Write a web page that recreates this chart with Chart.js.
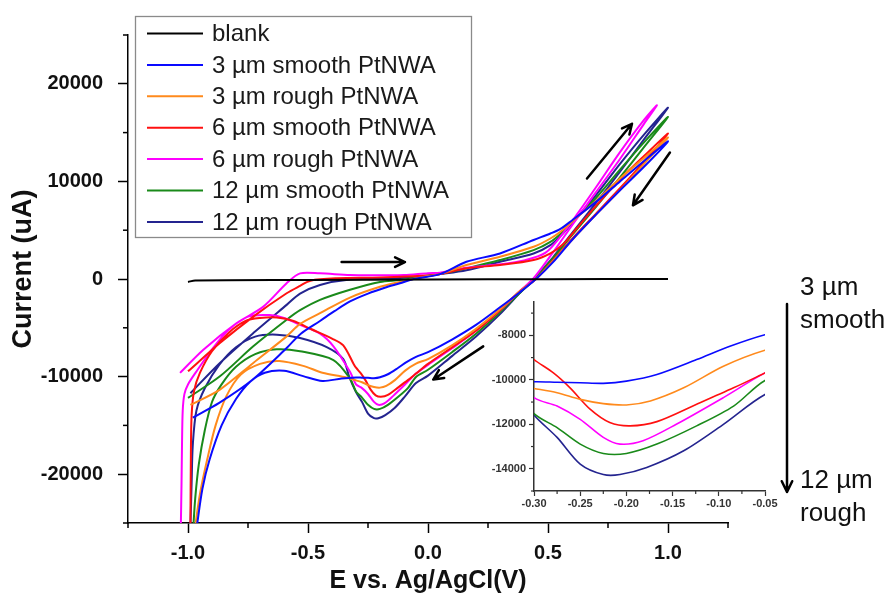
<!DOCTYPE html>
<html><head><meta charset="utf-8">
<script src="https://cdn.jsdelivr.net/npm/chart.js@4.4.0/dist/chart.umd.min.js"></script>
<style>
html,body{margin:0;padding:0;background:#fff;}
#wrap{position:relative;width:894px;height:596px;overflow:hidden;background:#fff;}
#main{position:absolute;left:0;top:0;}
#inset{position:absolute;left:470px;top:285px;}
.note{position:absolute;font-family:"Liberation Sans",Arial,sans-serif;font-size:26px;line-height:33px;color:#111;white-space:nowrap;}
</style></head><body>
<div id="wrap">
<canvas id="main" width="894" height="596"></canvas>
<canvas id="inset" width="320" height="235"></canvas>
<div class="note" style="left:800px;top:270px">3 µm<br>smooth</div>
<div class="note" style="left:800px;top:463px">12 µm<br>rough</div>
</div>
<script>
// ---------- DATA (E in V vs Ag/AgCl, current in uA) ----------
const seriesLabels = ['blank','3 µm smooth PtNWA','3 µm rough PtNWA','6 µm smooth PtNWA','6 µm rough PtNWA','12 µm smooth PtNWA','12 µm rough PtNWA'];
const seriesColors = ['#000000','#0a0aff','#ff8a1c','#ff1010','#ff00ff','#1a8a1a','#24248f'];
const xTitle = 'E vs. Ag/AgCl(V)';
const yTitle = 'Current (uA)';

const blank = [[-1.0,-300],[-0.97,-150],[-0.5,-100],[0.0,-50],[0.5,-20],[1.0,0]];

const smooth3 = [[-0.98,-14200],[-0.87,-12700],[-0.73,-10300],[-0.59,-7100],[-0.53,-5600],[-0.45,-4300],[-0.39,-3300],[-0.325,-2300],[-0.25,-1500],[-0.18,-900],[-0.117,-440],[-0.06,0],[0.05,500],[0.16,1770],[0.30,2620],[0.44,4000],[0.51,4660],[0.55,5100],[0.60,6000],[0.70,7900],[0.80,10000],[0.90,12100],[1.00,14100],
 [0.90,11500],[0.80,9100],[0.70,6600],[0.60,4000],[0.52,1700],[0.45,0],[0.38,-1400],[0.30,-2900],[0.20,-4700],[0.10,-6200],[0.00,-7500],[-0.05,-7970],[-0.088,-8490],[-0.124,-9090],[-0.167,-9760],[-0.20,-10060],[-0.225,-10160],[-0.25,-10130],[-0.275,-10110],[-0.30,-10090],[-0.36,-10200],[-0.44,-10450],[-0.52,-9950],[-0.60,-9400],[-0.68,-9600],[-0.74,-10500],[-0.80,-12300],[-0.86,-15000],[-0.91,-18500],[-0.94,-21500],[-0.964,-25500]];

const rough3 = [[-0.99,-12900],[-0.867,-11330],[-0.728,-8600],[-0.589,-5880],[-0.533,-4600],[-0.45,-3500],[-0.325,-1900],[-0.2,-800],[-0.117,-300],[0.0,300],[0.05,500],[0.16,1430],[0.30,2280],[0.44,3300],[0.51,4150],[0.56,5000],[0.62,6300],[0.70,8000],[0.80,10300],[0.90,12400],[1.00,14500],
 [0.90,11800],[0.80,9100],[0.70,6600],[0.60,4000],[0.52,1800],[0.45,0],[0.38,-1300],[0.30,-3100],[0.20,-5100],[0.10,-6800],[0.00,-8200],[-0.05,-8670],[-0.095,-9390],[-0.138,-10360],[-0.174,-10950],[-0.20,-11130],[-0.225,-11070],[-0.25,-10880],[-0.275,-10580],[-0.30,-10390],[-0.34,-10100],[-0.44,-9600],[-0.52,-8900],[-0.62,-8400],[-0.70,-8700],[-0.78,-9800],[-0.84,-12000],[-0.885,-15000],[-0.92,-18500],[-0.95,-22000],[-0.971,-25500]];

const smooth6 = [[-1.0,-9460],[-0.867,-6560],[-0.728,-3850],[-0.589,-1460],[-0.533,-700],[-0.49,-170],[-0.38,70],[-0.2,150],[0.0,350],[0.05,500],[0.16,1100],[0.30,1430],[0.44,1940],[0.51,2620],[0.56,3500],[0.62,5200],[0.70,7500],[0.80,10200],[0.90,12600],[1.00,14900],
 [0.90,12000],[0.80,9300],[0.70,6700],[0.60,4100],[0.52,1900],[0.45,0],[0.38,-1300],[0.30,-3200],[0.20,-5300],[0.10,-7000],[0.00,-8700],[-0.05,-9690],[-0.084,-10360],[-0.124,-11100],[-0.167,-11880],[-0.196,-12070],[-0.218,-11920],[-0.239,-11330],[-0.261,-10360],[-0.279,-9690],[-0.30,-9090],[-0.31,-8700],[-0.353,-6800],[-0.40,-6100],[-0.49,-5100],[-0.56,-4300],[-0.63,-3950],[-0.70,-4000],[-0.76,-4300],[-0.83,-5500],[-0.90,-7400],[-0.95,-9600],[-0.975,-11500],[-0.985,-14000],[-0.988,-18000],[-0.99,-25500]];

const rough6 = [[-1.033,-9620],[-0.936,-7245],[-0.797,-4520],[-0.686,-2830],[-0.589,-440],[-0.533,580],[-0.45,580],[-0.325,400],[-0.2,380],[-0.1,400],[0.0,600],[0.05,650],[0.16,1150],[0.30,1500],[0.40,1900],[0.49,2700],[0.56,4600],[0.62,6600],[0.70,9400],[0.80,13000],[0.90,16300],[0.954,17800],
 [0.90,15900],[0.80,12300],[0.70,8900],[0.60,5500],[0.52,2700],[0.4375,0],[0.38,-1300],[0.30,-3200],[0.20,-5300],[0.10,-7100],[0.00,-8800],[-0.05,-9690],[-0.095,-10800],[-0.146,-12000],[-0.182,-12740],[-0.207,-12890],[-0.225,-12590],[-0.25,-11780],[-0.275,-11180],[-0.30,-10800],[-0.325,-9500],[-0.394,-6900],[-0.45,-5600],[-0.533,-4700],[-0.60,-4000],[-0.66,-3700],[-0.75,-3850],[-0.83,-5200],[-0.90,-7200],[-0.96,-9300],[-1.0,-10800],[-1.015,-11800],[-1.022,-13500],[-1.025,-17000],[-1.027,-21000],[-1.03,-25500]];

const smooth12 = [[-1.0,-12180],[-0.867,-9970],[-0.728,-6900],[-0.589,-4180],[-0.533,-3200],[-0.45,-2140],[-0.325,-1100],[-0.2,-300],[-0.117,-100],[0.0,300],[0.05,500],[0.16,1090],[0.30,1940],[0.44,2960],[0.51,3800],[0.56,4800],[0.62,6300],[0.70,8300],[0.80,11200],[0.90,14000],[1.00,16600],
 [0.90,13500],[0.80,10400],[0.70,7400],[0.60,4500],[0.52,2100],[0.445,0],[0.38,-1500],[0.30,-3400],[0.20,-5600],[0.10,-7500],[0.00,-9300],[-0.05,-10030],[-0.084,-11180],[-0.124,-12070],[-0.167,-12890],[-0.20,-13310],[-0.225,-13310],[-0.25,-12890],[-0.275,-12150],[-0.30,-11520],[-0.325,-10200],[-0.394,-8300],[-0.533,-7400],[-0.63,-7200],[-0.72,-7700],[-0.80,-9000],[-0.86,-10800],[-0.90,-12600],[-0.93,-15500],[-0.955,-19000],[-0.97,-22500],[-0.978,-25500]];

const rough12 = [[-0.99,-11700],[-0.867,-8600],[-0.728,-5540],[-0.589,-2650],[-0.533,-1500],[-0.45,-610],[-0.325,-50],[-0.117,100],[0.0,350],[0.05,500],[0.16,900],[0.30,1770],[0.44,2620],[0.51,3470],[0.56,4600],[0.62,6300],[0.70,8600],[0.80,11800],[0.90,14800],[1.00,17550],
 [0.90,14300],[0.80,11000],[0.70,7800],[0.60,4700],[0.52,2200],[0.44,0],[0.38,-1500],[0.30,-3600],[0.20,-5900],[0.10,-7900],[0.00,-9900],[-0.05,-10660],[-0.095,-12000],[-0.138,-13190],[-0.178,-13940],[-0.207,-14260],[-0.225,-14260],[-0.25,-13790],[-0.275,-12590],[-0.30,-11580],[-0.33,-9900],[-0.353,-8200],[-0.42,-7000],[-0.533,-6050],[-0.63,-5700],[-0.72,-5900],[-0.80,-7000],[-0.87,-8800],[-0.93,-11200],[-0.965,-13500],[-0.98,-17000],[-0.985,-21000],[-0.99,-25500]];

const allSeries = [blank, smooth3, rough3, smooth6, rough6, smooth12, rough12];

// sweep-direction arrows (tail -> head), in data units
const arrowTail = [[-0.36,1735],[0.6625,10300],[1.008,12960],[0.23,-6900]];
const arrowHead = [[-0.096,1735],[0.85,15900],[0.854,7550],[0.022,-10300]];

// axis settings: tick grid step, minor-tick spacing, labelled-tick spacing
const mainX = {min:-1.25, max:1.25, step:0.25, minorEvery:0.25, labelEvery:0.5};
const mainY = {min:-25000, max:25000, step:5000, minorEvery:5000, labelEvery:10000};
const insetX = {min:-0.30, max:-0.05, step:0.025, minorEvery:0.025, labelEvery:0.05};
const insetY = {min:-15000, max:-6500, step:500, minorEvery:1000, labelEvery:2000};

// ---------- helpers ----------
const FONT = '"Liberation Sans", Arial, Helvetica, sans-serif';
function isMultiple(v, m){ const r = Math.abs(v / m); return Math.abs(r - Math.round(r)) < 1e-6; }

function drawArrow(ctx, x0, y0, x1, y1, hl){
  const a = Math.atan2(y1 - y0, x1 - x0);
  ctx.beginPath();
  ctx.moveTo(x0, y0); ctx.lineTo(x1, y1);
  ctx.moveTo(x1 - hl*Math.cos(a - 0.45), y1 - hl*Math.sin(a - 0.45));
  ctx.lineTo(x1, y1);
  ctx.lineTo(x1 - hl*Math.cos(a + 0.45), y1 - hl*Math.sin(a + 0.45));
  ctx.stroke();
}

function makeMinorTicks(ax, ay, len, color, width){
  return {
    id: 'minorTicks',
    afterDraw(chart){
      const ctx = chart.ctx, xs = chart.scales.x, ys = chart.scales.y;
      ctx.save(); ctx.strokeStyle = color; ctx.lineWidth = width;
      xs.ticks.forEach(t => {
        if (isMultiple(t.value, ax.minorEvery) && !isMultiple(t.value, ax.labelEvery)) {
          const px = xs.getPixelForValue(t.value);
          ctx.beginPath(); ctx.moveTo(px, xs.top); ctx.lineTo(px, xs.top + len); ctx.stroke();
        }
      });
      ys.ticks.forEach(t => {
        if (isMultiple(t.value, ay.minorEvery) && !isMultiple(t.value, ay.labelEvery)) {
          const py = ys.getPixelForValue(t.value);
          ctx.beginPath(); ctx.moveTo(ys.right, py); ctx.lineTo(ys.right - len, py); ctx.stroke();
        }
      });
      ctx.restore();
    }
  };
}

function buildDatasets(skipBlank, width){
  const ds = [];
  allSeries.forEach((pts, i) => {
    if (skipBlank && i === 0) return;
    ds.push({
      label: seriesLabels[i],
      data: pts.map(p => ({x: p[0], y: p[1]})),
      showLine: true,
      borderColor: seriesColors[i],
      backgroundColor: seriesColors[i],
      borderWidth: width,
      pointRadius: 0,
      tension: 0.3,
      fill: false
    });
  });
  return ds;
}

const arrowPlugin = {
  id: 'cvArrows',
  afterDatasetsDraw(chart){
    const ctx = chart.ctx, x = chart.scales.x, y = chart.scales.y;
    ctx.save(); ctx.strokeStyle = '#000'; ctx.lineWidth = 2.5; ctx.lineCap = 'round'; ctx.lineJoin = 'round';
    arrowTail.forEach((t, i) => {
      const h = arrowHead[i];
      drawArrow(ctx, x.getPixelForValue(t[0]), y.getPixelForValue(t[1]), x.getPixelForValue(h[0]), y.getPixelForValue(h[1]), 11);
    });
    // side arrow (3 µm smooth -> 12 µm rough)
    drawArrow(ctx, 787, 304, 787, 492, 12);
    ctx.restore();
  }
};

// rotated y-axis title, placed slightly above the plot centre as in the original
const yTitlePlugin = {
  id: 'yTitle',
  afterDraw(chart){
    const ctx = chart.ctx, ca = chart.chartArea;
    ctx.save();
    ctx.translate(24, (ca.top + ca.bottom) / 2 - 10);
    ctx.rotate(-Math.PI / 2);
    ctx.font = 'bold 27px ' + FONT; ctx.fillStyle = '#111';
    ctx.textAlign = 'center'; ctx.textBaseline = 'middle';
    ctx.fillText(yTitle, 0, 0);
    ctx.restore();
  }
};

const legendPlugin = {
  id: 'boxLegend',
  afterDraw(chart){
    const ctx = chart.ctx, ca = chart.chartArea;
    const L = ca.left + 7, T = 16, W = 336, H = 221;
    ctx.save();
    ctx.fillStyle = '#fff'; ctx.fillRect(L, T, W, H);
    ctx.strokeStyle = '#8a8a8a'; ctx.lineWidth = 1.3; ctx.strokeRect(L + 0.5, T + 0.5, W, H);
    ctx.font = '24px ' + FONT; ctx.textBaseline = 'middle'; ctx.textAlign = 'left';
    chart.data.datasets.forEach((ds, i) => {
      const yy = T + 17.5 + i * 31.4;
      ctx.strokeStyle = ds.borderColor; ctx.lineWidth = 2;
      ctx.beginPath(); ctx.moveTo(L + 12, yy); ctx.lineTo(L + 68, yy); ctx.stroke();
      ctx.fillStyle = '#1a1a1a';
      ctx.fillText(ds.label, L + 77, yy + 1);
    });
    ctx.restore();
  }
};

// ---------- main chart ----------
new Chart(document.getElementById('main'), {
  type: 'scatter',
  data: { datasets: buildDatasets(false, 2) },
  options: {
    responsive: false, animation: false, devicePixelRatio: 1,
    layout: { padding: { left: 0, right: 166, top: 35, bottom: 0 } },
    plugins: { legend: { display: false }, tooltip: { enabled: false } },
    scales: {
      x: {
        type: 'linear', min: mainX.min, max: mainX.max,
        afterFit: s => { s.height = 73; },
        ticks: {
          stepSize: mainX.step, autoSkip: false, maxRotation: 0, padding: 8,
          color: '#111', font: { family: FONT, size: 20, weight: 'bold' },
          callback: v => { if (!isMultiple(v, mainX.labelEvery)) return ''; const t = Math.round(v*10)/10; return (t === 0 ? 0 : t).toFixed(1); }
        },
        grid: { display: true, drawOnChartArea: false, drawTicks: true, tickLength: 10, tickWidth: 1.5,
          tickColor: c => (c.tick && isMultiple(c.tick.value, mainX.labelEvery)) ? '#000' : 'rgba(0,0,0,0)' },
        border: { display: true, color: '#000', width: 1.5 },
        title: { display: true, text: xTitle, color: '#111', font: { family: FONT, size: 25, weight: 'bold' }, padding: { top: 0, bottom: 0 } }
      },
      y: {
        type: 'linear', min: mainY.min, max: mainY.max,
        afterFit: s => { s.width = 128; },
        ticks: {
          stepSize: mainY.step, autoSkip: false, padding: 15,
          color: '#111', font: { family: FONT, size: 20, weight: 'bold' },
          callback: v => isMultiple(v, mainY.labelEvery) ? String(Math.round(v)) : ''
        },
        grid: { display: true, drawOnChartArea: false, drawTicks: true, tickLength: 10, tickWidth: 1.5,
          tickColor: c => (c.tick && isMultiple(c.tick.value, mainY.labelEvery)) ? '#000' : 'rgba(0,0,0,0)' },
        border: { display: true, color: '#000', width: 1.5 },
        title: { display: false, text: yTitle }
      }
    }
  },
  plugins: [makeMinorTicks(mainX, mainY, 5, '#000', 1.5), arrowPlugin, legendPlugin, yTitlePlugin]
});

// ---------- inset chart ----------
new Chart(document.getElementById('inset'), {
  type: 'scatter',
  data: { datasets: buildDatasets(true, 1.6) },
  options: {
    responsive: false, animation: false, devicePixelRatio: 1,
    layout: { padding: { left: 0, right: 25, top: 17, bottom: 0 } },
    plugins: { legend: { display: false }, tooltip: { enabled: false } },
    scales: {
      x: {
        type: 'linear', min: insetX.min, max: insetX.max,
        afterFit: s => { s.height = 29; },
        ticks: {
          stepSize: insetX.step, autoSkip: false, maxRotation: 0, padding: 1,
          color: '#333', font: { family: FONT, size: 11, weight: 'bold' },
          callback: v => isMultiple(v, insetX.labelEvery) ? (Math.round(v*100)/100).toFixed(2) : ''
        },
        grid: { display: true, drawOnChartArea: false, drawTicks: true, tickLength: 5, tickWidth: 1.2,
          tickColor: c => (c.tick && isMultiple(c.tick.value, insetX.labelEvery)) ? '#333' : 'rgba(0,0,0,0)' },
        border: { display: true, color: '#333', width: 1.5 }
      },
      y: {
        type: 'linear', min: insetY.min, max: insetY.max,
        afterFit: s => { s.width = 64; },
        ticks: {
          stepSize: insetY.step, autoSkip: false, padding: 3,
          color: '#333', font: { family: FONT, size: 11, weight: 'bold' },
          callback: v => isMultiple(v, insetY.labelEvery) ? String(Math.round(v)) : ''
        },
        grid: { display: true, drawOnChartArea: false, drawTicks: true, tickLength: 5, tickWidth: 1.2,
          tickColor: c => (c.tick && isMultiple(c.tick.value, insetY.labelEvery)) ? '#333' : 'rgba(0,0,0,0)' },
        border: { display: true, color: '#333', width: 1.5 }
      }
    }
  },
  plugins: [makeMinorTicks(insetX, insetY, 3, '#333', 1.2)]
});
</script>
</body></html>
